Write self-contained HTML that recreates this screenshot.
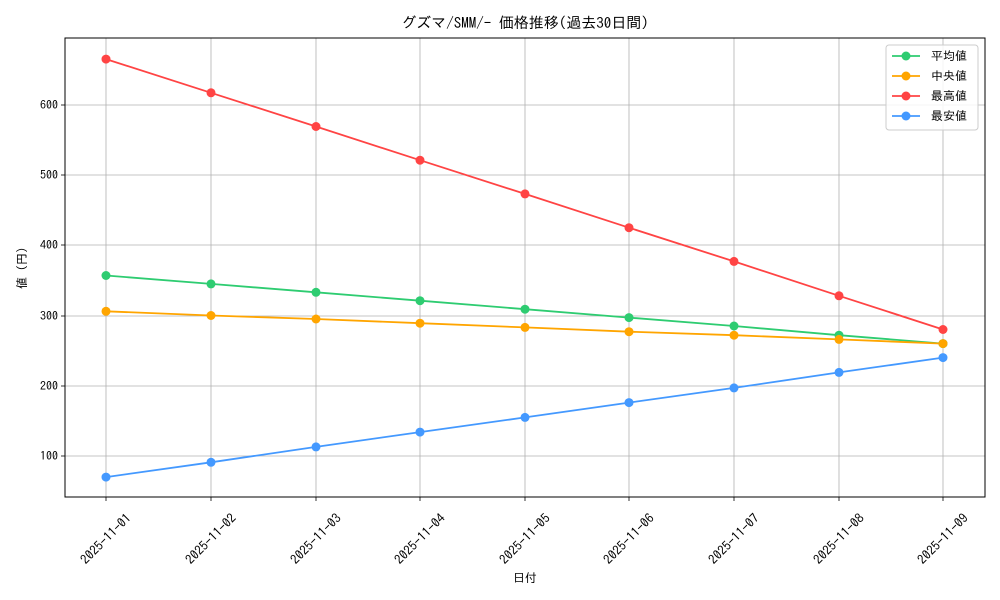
<!DOCTYPE html>
<html><head><meta charset="utf-8"><style>body{margin:0;background:#fff}svg{display:block}text{font-family:"IPAGothic","Liberation Sans","Noto Sans CJK JP",sans-serif;fill:#000}</style></head>
<body>
<svg width="1000" height="600" viewBox="0 0 1000 600" xmlns="http://www.w3.org/2000/svg">
<rect width="1000" height="600" fill="#fff"/>
<g stroke="#b0b0b0" stroke-width="0.8">
<line x1="106" y1="38" x2="106" y2="497"/><line x1="211" y1="38" x2="211" y2="497"/><line x1="316" y1="38" x2="316" y2="497"/><line x1="420" y1="38" x2="420" y2="497"/><line x1="525" y1="38" x2="525" y2="497"/><line x1="629" y1="38" x2="629" y2="497"/><line x1="734" y1="38" x2="734" y2="497"/><line x1="839" y1="38" x2="839" y2="497"/><line x1="943" y1="38" x2="943" y2="497"/>
<line x1="65" y1="456" x2="985" y2="456"/><line x1="65" y1="386" x2="985" y2="386"/><line x1="65" y1="316" x2="985" y2="316"/><line x1="65" y1="245" x2="985" y2="245"/><line x1="65" y1="175" x2="985" y2="175"/><line x1="65" y1="105" x2="985" y2="105"/>
</g>
<rect x="65" y="38" width="920" height="459" fill="none" stroke="#000" stroke-width="1"/>
<g stroke="#000" stroke-width="0.8">
<line x1="106" y1="497" x2="106" y2="501"/><line x1="211" y1="497" x2="211" y2="501"/><line x1="316" y1="497" x2="316" y2="501"/><line x1="420" y1="497" x2="420" y2="501"/><line x1="525" y1="497" x2="525" y2="501"/><line x1="629" y1="497" x2="629" y2="501"/><line x1="734" y1="497" x2="734" y2="501"/><line x1="839" y1="497" x2="839" y2="501"/><line x1="943" y1="497" x2="943" y2="501"/>
<line x1="61" y1="456" x2="65" y2="456"/><line x1="61" y1="386" x2="65" y2="386"/><line x1="61" y1="316" x2="65" y2="316"/><line x1="61" y1="245" x2="65" y2="245"/><line x1="61" y1="175" x2="65" y2="175"/><line x1="61" y1="105" x2="65" y2="105"/>
</g>
<g font-size="12" text-anchor="end">
<text x="58" y="460">100</text><text x="58" y="390">200</text><text x="58" y="320">300</text><text x="58" y="249">400</text><text x="58" y="179">500</text><text x="58" y="109">600</text>
</g>
<g font-size="13" text-anchor="middle">
<text transform="translate(109,542) rotate(-45)">2025-11-01</text>
<text transform="translate(214,542) rotate(-45)">2025-11-02</text>
<text transform="translate(319,542) rotate(-45)">2025-11-03</text>
<text transform="translate(423,542) rotate(-45)">2025-11-04</text>
<text transform="translate(528,542) rotate(-45)">2025-11-05</text>
<text transform="translate(632,542) rotate(-45)">2025-11-06</text>
<text transform="translate(737,542) rotate(-45)">2025-11-07</text>
<text transform="translate(842,542) rotate(-45)">2025-11-08</text>
<text transform="translate(946,542) rotate(-45)">2025-11-09</text>
</g>
<text x="525" y="582" font-size="12" text-anchor="middle">日付</text>
<text transform="translate(26,268) rotate(-90)" font-size="12" text-anchor="middle">値 (円)</text>
<text x="525" y="28" font-size="15" text-anchor="middle">グズマ/SMM/- 価格推移(過去30日間)</text>
<g fill="none" stroke-width="1.8">
<polyline stroke="#ff4444" points="106,59.1 211,92.8 316,126.5 420,160.2 525,193.9 629,227.7 734,261.4 839,295.8 943,329.5"/>
<polyline stroke="#2ecc71" points="106,275.5 211,283.9 316,292.3 420,300.7 525,309.2 629,317.6 734,326 839,335.2 943,343.6"/>
<polyline stroke="#ffa500" points="106,311.3 211,315.5 316,319 420,323.2 525,327.4 629,331.7 734,335.2 839,339.4 943,343.6"/>
<polyline stroke="#4499ff" points="106,477.1 211,462.3 316,446.9 420,432.1 525,417.4 629,402.6 734,387.9 839,372.4 943,357.6"/>
</g>
<g fill="#ff4444"><circle cx="106" cy="59.1" r="4.5"/><circle cx="211" cy="92.8" r="4.5"/><circle cx="316" cy="126.5" r="4.5"/><circle cx="420" cy="160.2" r="4.5"/><circle cx="525" cy="193.9" r="4.5"/><circle cx="629" cy="227.7" r="4.5"/><circle cx="734" cy="261.4" r="4.5"/><circle cx="839" cy="295.8" r="4.5"/><circle cx="943" cy="329.5" r="4.5"/></g>
<g fill="#2ecc71"><circle cx="106" cy="275.5" r="4.5"/><circle cx="211" cy="283.9" r="4.5"/><circle cx="316" cy="292.3" r="4.5"/><circle cx="420" cy="300.7" r="4.5"/><circle cx="525" cy="309.2" r="4.5"/><circle cx="629" cy="317.6" r="4.5"/><circle cx="734" cy="326" r="4.5"/><circle cx="839" cy="335.2" r="4.5"/><circle cx="943" cy="343.6" r="4.5"/></g>
<g fill="#ffa500"><circle cx="106" cy="311.3" r="4.5"/><circle cx="211" cy="315.5" r="4.5"/><circle cx="316" cy="319" r="4.5"/><circle cx="420" cy="323.2" r="4.5"/><circle cx="525" cy="327.4" r="4.5"/><circle cx="629" cy="331.7" r="4.5"/><circle cx="734" cy="335.2" r="4.5"/><circle cx="839" cy="339.4" r="4.5"/><circle cx="943" cy="343.6" r="4.5"/></g>
<g fill="#4499ff"><circle cx="106" cy="477.1" r="4.5"/><circle cx="211" cy="462.3" r="4.5"/><circle cx="316" cy="446.9" r="4.5"/><circle cx="420" cy="432.1" r="4.5"/><circle cx="525" cy="417.4" r="4.5"/><circle cx="629" cy="402.6" r="4.5"/><circle cx="734" cy="387.9" r="4.5"/><circle cx="839" cy="372.4" r="4.5"/><circle cx="943" cy="357.6" r="4.5"/></g>
<rect x="886" y="45" width="92" height="85" rx="3" fill="#fff" fill-opacity="0.85" stroke="#ccc"/>
<g stroke-width="1.8">
<line x1="892" y1="56" x2="920" y2="56" stroke="#2ecc71"/><circle cx="906" cy="56" r="4.5" fill="#2ecc71"/>
<line x1="892" y1="76" x2="920" y2="76" stroke="#ffa500"/><circle cx="906" cy="76" r="4.5" fill="#ffa500"/>
<line x1="892" y1="96" x2="920" y2="96" stroke="#ff4444"/><circle cx="906" cy="96" r="4.5" fill="#ff4444"/>
<line x1="892" y1="116" x2="920" y2="116" stroke="#4499ff"/><circle cx="906" cy="116" r="4.5" fill="#4499ff"/>
</g>
<g font-size="12">
<text x="931" y="60">平均値</text><text x="931" y="80"> 中央値</text><text x="931" y="100">最高値</text><text x="931" y="120">最安値</text>
</g>
</svg>
</body></html>
